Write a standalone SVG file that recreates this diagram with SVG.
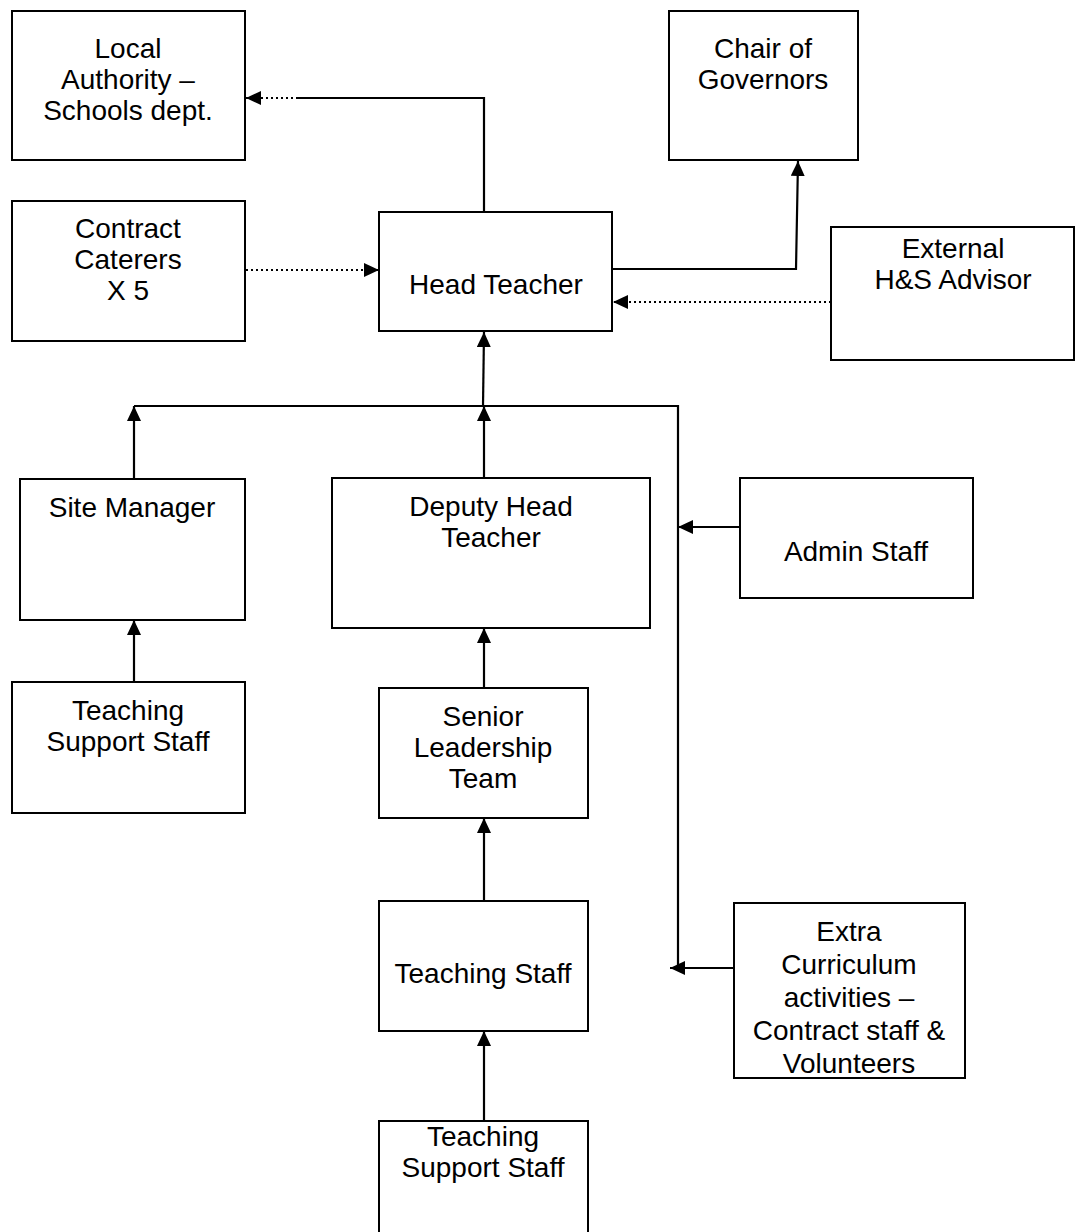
<svg xmlns="http://www.w3.org/2000/svg" width="1075" height="1232" viewBox="0 0 1075 1232">
<style>
.box{fill:#fff;stroke:#000;stroke-width:2}
.t{font-family:"Liberation Sans",Arial,sans-serif;font-size:28px;fill:#000;text-anchor:middle}
.c{fill:none;stroke:#000;stroke-width:2.2}
.d{fill:none;stroke:#000;stroke-width:2.2;stroke-dasharray:2 3}
</style>
<defs>
<marker id="ah" markerUnits="userSpaceOnUse" markerWidth="16" markerHeight="14" refX="15" refY="7" orient="auto">
<path d="M0,0 L15,7 L0,14 Z" fill="#000"/>
</marker>
</defs>
<rect width="1075" height="1232" fill="#fff"/>
<g id="connectors">
<path class="c" d="M484,212 V98 H298"/>
<path class="d" d="M298,98 H246" marker-end="url(#ah)"/>
<path class="d" d="M246,270 H379" marker-end="url(#ah)"/>
<path class="c" d="M612,269 H796 L798,161" marker-end="url(#ah)"/>
<path class="d" d="M831,302 H613" marker-end="url(#ah)"/>
<path class="c" d="M134,406 H678 V968"/>
<path class="c" d="M483,406 L484,332" marker-end="url(#ah)"/>
<path class="c" d="M740,527 H678" marker-end="url(#ah)"/>
<path class="c" d="M734,968 H670" marker-end="url(#ah)"/>
<path class="c" d="M134,479 V406" marker-end="url(#ah)"/>
<path class="c" d="M484,478 V406" marker-end="url(#ah)"/>
<path class="c" d="M134,682 V620" marker-end="url(#ah)"/>
<path class="c" d="M484,688 V628" marker-end="url(#ah)"/>
<path class="c" d="M484,901 V818" marker-end="url(#ah)"/>
<path class="c" d="M484,1121 V1031" marker-end="url(#ah)"/>
</g>
<g id="local-authority">
<rect class="box" x="12" y="11" width="233" height="149"/>
<text class="t" x="128" y="58">Local</text>
<text class="t" x="128" y="89">Authority –</text>
<text class="t" x="128" y="120">Schools dept.</text>
</g>
<g id="chair-of-governors">
<rect class="box" x="669" y="11" width="189" height="149"/>
<text class="t" x="763" y="58">Chair of</text>
<text class="t" x="763" y="89">Governors</text>
</g>
<g id="contract-caterers">
<rect class="box" x="12" y="201" width="233" height="140"/>
<text class="t" x="128" y="238">Contract</text>
<text class="t" x="128" y="269">Caterers</text>
<text class="t" x="128" y="300">X 5</text>
</g>
<g id="head-teacher">
<rect class="box" x="379" y="212" width="233" height="119"/>
<text class="t" x="496" y="294">Head Teacher</text>
</g>
<g id="external-hs-advisor">
<rect class="box" x="831" y="227" width="243" height="133"/>
<text class="t" x="953" y="258">External</text>
<text class="t" x="953" y="289">H&amp;S Advisor</text>
</g>
<g id="site-manager">
<rect class="box" x="20" y="479" width="225" height="141"/>
<text class="t" x="132" y="517">Site Manager</text>
</g>
<g id="deputy-head-teacher">
<rect class="box" x="332" y="478" width="318" height="150"/>
<text class="t" x="491" y="516">Deputy Head</text>
<text class="t" x="491" y="547">Teacher</text>
</g>
<g id="admin-staff">
<rect class="box" x="740" y="478" width="233" height="120"/>
<text class="t" x="856" y="561">Admin Staff</text>
</g>
<g id="teaching-support-staff-left">
<rect class="box" x="12" y="682" width="233" height="131"/>
<text class="t" x="128" y="720">Teaching</text>
<text class="t" x="128" y="751">Support Staff</text>
</g>
<g id="senior-leadership-team">
<rect class="box" x="379" y="688" width="209" height="130"/>
<text class="t" x="483" y="726">Senior</text>
<text class="t" x="483" y="757">Leadership</text>
<text class="t" x="483" y="788">Team</text>
</g>
<g id="teaching-staff">
<rect class="box" x="379" y="901" width="209" height="130"/>
<text class="t" x="483" y="983">Teaching Staff</text>
</g>
<g id="extra-curriculum">
<rect class="box" x="734" y="903" width="231" height="175"/>
<text class="t" x="849" y="941">Extra</text>
<text class="t" x="849" y="974">Curriculum</text>
<text class="t" x="849" y="1007">activities –</text>
<text class="t" x="849" y="1040">Contract staff &amp;</text>
<text class="t" x="849" y="1073">Volunteers</text>
</g>
<g id="teaching-support-staff-bottom">
<rect class="box" x="379" y="1121" width="209" height="115"/>
<text class="t" x="483" y="1146">Teaching</text>
<text class="t" x="483" y="1177">Support Staff</text>
</g>
</svg>
